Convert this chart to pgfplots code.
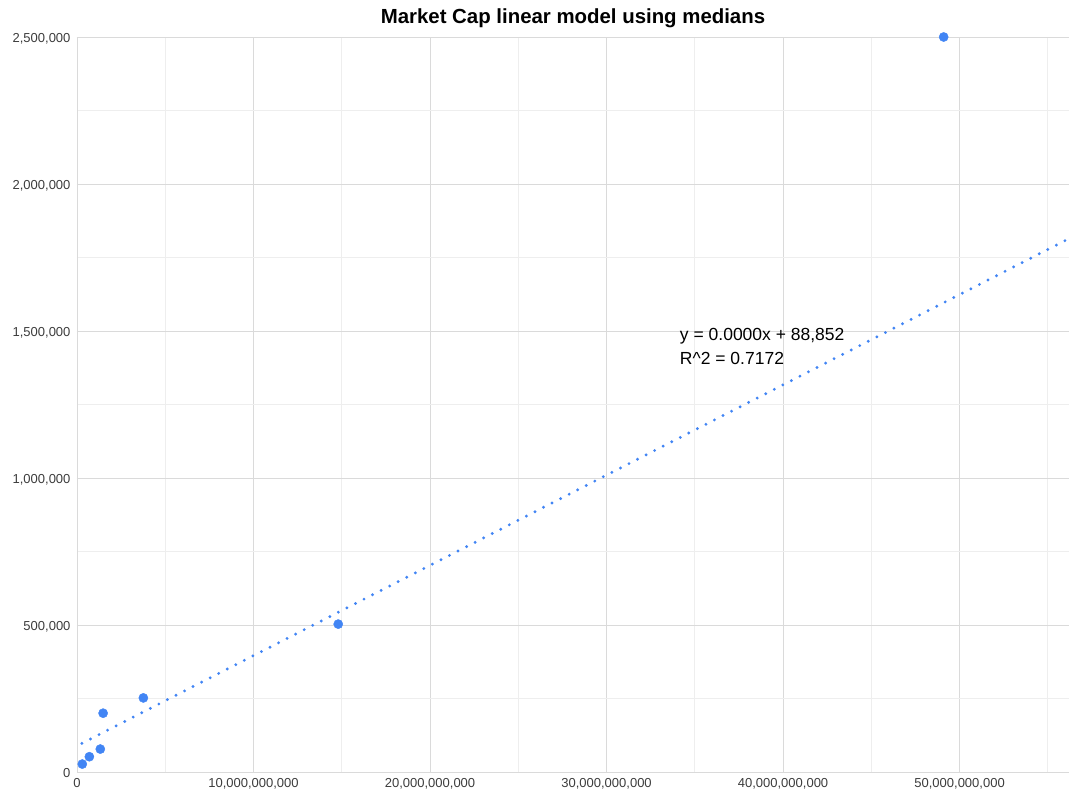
\documentclass[border=0pt]{standalone}
\usepackage{pgfplots}
\pgfplotsset{compat=1.18}
\usepackage{fontspec}
\setmainfont{Liberation Sans}
\definecolor{gblue}{HTML}{4285F4}
\definecolor{majgrid}{HTML}{DADADA}
\definecolor{mingrid}{HTML}{EEEEEE}
\definecolor{ticktxt}{HTML}{3C3C3C}
\begin{document}
\begin{tikzpicture}
\path[use as bounding box] (-77pt,-25pt) rectangle (992pt,772pt);
\begin{axis}[
  at={(0pt,0pt)}, anchor=south west,
  scale only axis, width=992pt, height=735pt,
  xmin=0, xmax=56.2e9, ymin=0, ymax=2.5e6,
  scaled x ticks=false, scaled y ticks=false,
  axis x line=bottom, axis y line=left,
  axis line style={-, draw=majgrid, line width=0.8pt},
  xtick={0,1e10,2e10,3e10,4e10,5e10},
  xticklabels={0,{10,000,000,000},{20,000,000,000},{30,000,000,000},{40,000,000,000},{50,000,000,000}},
  minor xtick={5e9,1.5e10,2.5e10,3.5e10,4.5e10,5.5e10},
  ytick={0,500000,1000000,1500000,2000000,2500000},
  yticklabels={0,{500,000},{1,000,000},{1,500,000},{2,000,000},{2,500,000}},
  minor ytick={250000,750000,1250000,1750000,2250000},
  grid=both,
  major grid style={draw=majgrid, line width=0.8pt},
  minor grid style={draw=mingrid, line width=0.8pt},
  major tick length=0pt, minor tick length=0pt,
  tick label style={font=\fontsize{13}{15}\selectfont, text=ticktxt},
  xticklabel style={yshift=-2.5pt},
  yticklabel style={xshift=-3pt, yshift=-1.5pt},
  clip=false,
]
\addplot[draw=gblue, line width=3.2pt, line cap=round, dash pattern=on 0pt off 9.6pt]
  coordinates {(0.28e9,97448) (56.2e9,1814192)};
\addplot[only marks, mark=*, mark size=4.6pt, mark options={fill=gblue, draw=gblue}]
  coordinates {
    (0.30e9,27000)
    (0.70e9,52000)
    (1.32e9,78000)
    (1.48e9,200000)
    (3.76e9,252000)
    (14.8e9,503000)
    (49.1e9,2500000)
  };
\node[anchor=west, inner sep=0pt, font=\fontsize{17.5}{20}\selectfont] at (axis cs:34.15e9,1.483e6) {y = 0.0000x + 88,852};
\node[anchor=west, inner sep=0pt, font=\fontsize{17.5}{20}\selectfont] at (axis cs:34.15e9,1.405e6) {R\^{}2 = 0.7172};
\node[font=\bfseries\fontsize{20.4}{23}\selectfont] at ([yshift=19pt]rel axis cs:0.5,1) {Market Cap linear model using medians};
\end{axis}
\end{tikzpicture}
\end{document}
